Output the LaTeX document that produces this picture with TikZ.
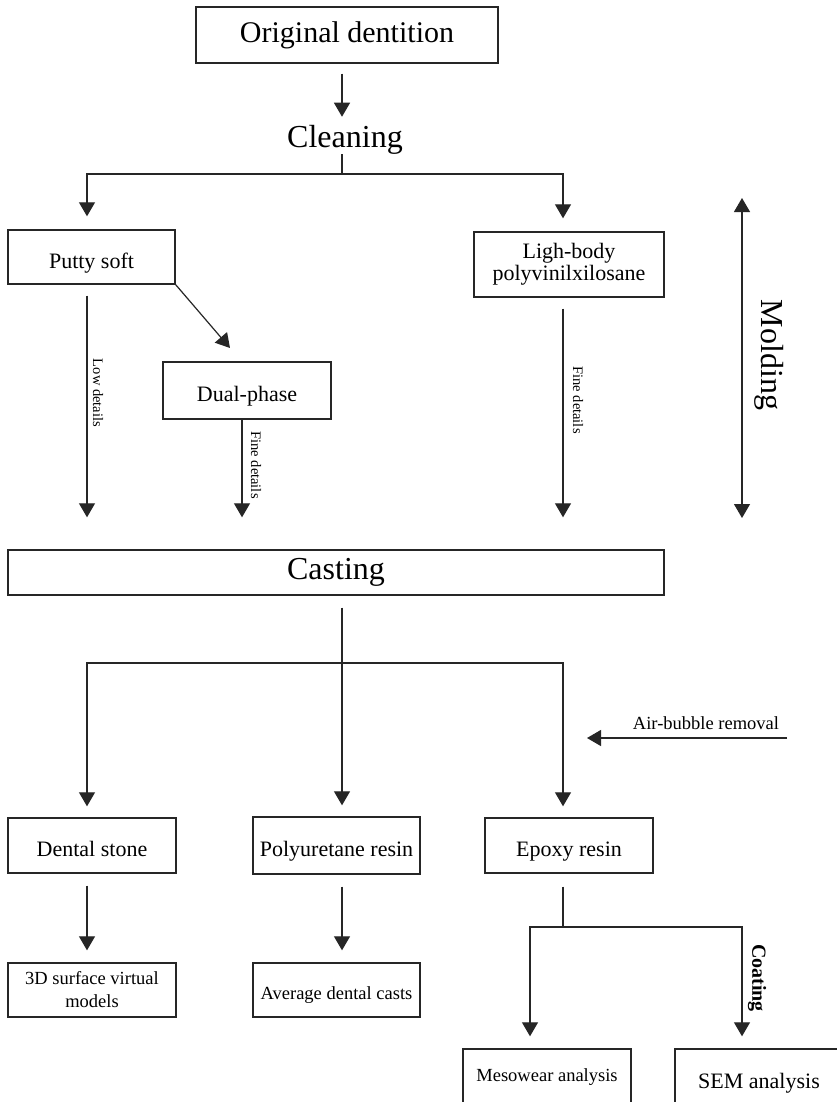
\documentclass[tikz,border=0pt]{standalone}
\usepackage{fontspec}
\setmainfont{Liberation Serif}
\usetikzlibrary{arrows.meta,calc}
\begin{document}
\begin{tikzpicture}[x=1pt,y=-1pt,
  box/.style={draw=black!85, line width=1.4pt, inner sep=0pt, align=center},
  bigtxt/.style={font=\fontsize{32}{36}\selectfont},
  midtxt/.style={font=\fontsize{22}{22}\selectfont},
  smltxt/.style={font=\fontsize{18.5}{24}\selectfont},
  lbltxt/.style={font=\fontsize{14.5}{16}\selectfont},
  lowmid/.style={text height=22pt, text depth=0pt},
  lowsml/.style={text height=19pt, text depth=0pt},
  ln/.style={draw=black!85, line width=1.2pt},
  arr/.style={ln, -{Triangle[length=14pt,width=16pt]}},
  dblarr/.style={ln, {Triangle[length=14pt,width=16pt]}-{Triangle[length=14pt,width=16pt]}},
  vlbl/.style={rotate=-90, inner sep=0pt}
]
\useasboundingbox (0,0) rectangle (837,1102);
\clip (0,0) rectangle (837,1102);
\fill[white] (0,0) rectangle (837,1102);

% columns
\coordinate (cA) at (87,0);
\coordinate (cB) at (342,0);
\coordinate (cC) at (563,0);
\coordinate (cD) at (242,0);
\coordinate (cE) at (530,0);
\coordinate (cF) at (742,0);

% nodes
\node[box, font=\fontsize{30}{34}\selectfont, minimum width=302pt, minimum height=56pt] (orig) at (347,35) {Original dentition};
\node[bigtxt, inner sep=0pt] (clean) at (345,139.5) {Cleaning};
\node[box, midtxt, lowmid, minimum width=167pt, minimum height=54pt] (putty) at (91.5,257) {Putty soft};
\node[box, midtxt, minimum width=190pt, minimum height=65pt] (ligh) at (569,264.5) {Ligh-body\\polyvinilxilosane};
\node[box, midtxt, lowmid, minimum width=168pt, minimum height=57pt] (dual) at (247,390.5) {Dual-phase};
\node[box, bigtxt, minimum width=656pt, minimum height=45pt] (casting) at (336,572.5) {Casting};
\node[box, midtxt, lowmid, minimum width=168pt, minimum height=55pt] (dental) at (92,845.5) {Dental stone};
\node[box, midtxt, lowmid, minimum width=167pt, minimum height=57pt] (poly) at (336.5,845.5) {Polyuretane resin};
\node[box, midtxt, lowmid, minimum width=168pt, minimum height=55pt] (epoxy) at (569,845.5) {Epoxy resin};
\node[box, smltxt, minimum width=168pt, minimum height=54pt] (surf) at (92,990) {3D surface virtual\\[-1pt]models};
\node[box, smltxt, lowsml, minimum width=167pt, minimum height=54pt] (avg) at (336.5,990) {Average dental casts};
\node[box, smltxt, minimum width=168pt, minimum height=57pt] (meso) at (547,1077.5) {Mesowear analysis};
\node[box, midtxt, text height=21pt, text depth=0pt, minimum width=168pt, minimum height=57pt] (sem) at (759,1077.5) {SEM analysis};

% labels
\node[vlbl, lbltxt] (lowlbl) at (98,393) {Low details};
\node[vlbl, lbltxt] (fine1) at (256,465) {Fine details};
\node[vlbl, lbltxt] (fine2) at (578,400) {Fine details};
\node[vlbl, bigtxt] (molding) at (769,355) {Molding};
\node[vlbl, font=\fontsize{20}{22}\selectfont\bfseries] (coating) at (757,978) {Coating};
\node[smltxt, inner sep=0pt] (airlbl) at (706,723) {Air-bubble removal};

% junctions and free ends
\coordinate (split1) at (342,174);
\coordinate (split2) at (342,663);
\coordinate (split3) at (563,927);
\coordinate (dtip) at (230,348);
\coordinate (mtop) at (742,198);
\coordinate (mbot) at (742,518);
\coordinate (airstart) at (787,738);
\coordinate (airend) at (587,738);

% connectors
\draw[arr, shorten <=10pt, shorten >=8pt] (orig.south -| cB) -- (clean.north -| cB);
\draw[ln] (clean.south -| cB) -- (split1);
\draw[arr, shorten >=13pt] (split1) -| (putty.north -| cA);
\draw[arr, shorten >=13pt] (split1) -| (ligh.north -| cC);

\draw[arr, shorten <=11pt, shorten >=32pt] (putty.south -| cA) -- (casting.north -| cA);
\draw[arr] (putty.south east) -- (dtip);
\draw[arr, shorten >=32pt] (dual.south -| cD) -- (casting.north -| cD);
\draw[arr, shorten <=11pt, shorten >=32pt] (ligh.south -| cC) -- (casting.north -| cC);
\draw[dblarr] (mtop) -- (mbot);

\draw[ln, shorten <=12pt] (casting.south -| cB) -- (split2);
\draw[arr, shorten >=11pt] (split2) -- (poly.north -| cB);
\draw[arr, shorten >=11pt] (split2) -| (dental.north -| cA);
\draw[arr, shorten >=11pt] (split2) -| (epoxy.north -| cC);
\draw[arr] (airstart) -- (airend);

\draw[arr, shorten <=12pt, shorten >=12pt] (dental.south -| cA) -- (surf.north -| cA);
\draw[arr, shorten <=12pt, shorten >=12pt] (poly.south -| cB) -- (avg.north -| cB);
\draw[ln, shorten <=13pt] (epoxy.south -| cC) -- (split3);
\draw[arr, shorten >=12pt] (split3) -| (meso.north -| cE);
\draw[arr, shorten >=12pt] (split3) -| (sem.north -| cF);
\end{tikzpicture}
\end{document}
